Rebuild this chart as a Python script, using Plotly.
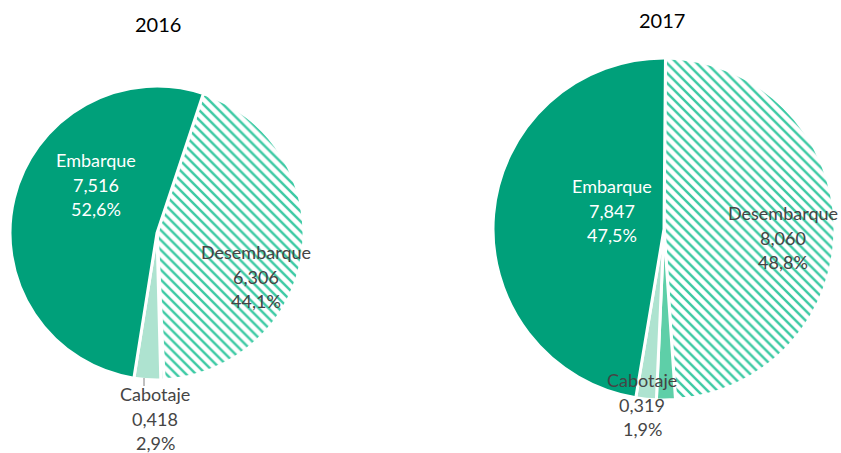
import plotly.graph_objects as go

# ---- data ----
years = ["2016", "2017"]
labels_2016 = ["Desembarque", "Otros", "Cabotaje", "Embarque"]
values_2016 = [6.306, 0.050, 0.418, 7.516]
pct_2016 = ["44,1%", "", "2,9%", "52,6%"]
txt_2016 = ["6,306", "", "0,418", "7,516"]

labels_2017 = ["Desembarque", "Otros", "Cabotaje", "Embarque"]
values_2017 = [8.060, 0.294, 0.319, 7.847]
pct_2017 = ["48,8%", "", "1,9%", "47,5%"]
txt_2017 = ["8,060", "", "0,319", "7,847"]

# ---- style ----
DARK = "#00a07a"
LIGHT = "#aee3d0"
MED = "#5ecfa8"
HATCH = "#3ccaa4"
colors = ["white", MED, LIGHT, DARK]
shapes_pat = ["\\", "", "", ""]
FONT = "Lato"
WEIGHT = 400

fig = go.Figure()

def add_pie(labels, values, domain, rotation):
    fig.add_trace(go.Pie(
        labels=labels, values=values, sort=False, direction="clockwise",
        rotation=rotation, domain=domain, textinfo="none", hoverinfo="label+value",
        showlegend=False,
        marker=dict(colors=colors, line=dict(color="white", width=3),
                    pattern=dict(shape=shapes_pat, fgcolor=[HATCH, MED, LIGHT, DARK],
                                 size=7, solidity=0.35)),
    ))

W, H = 841, 453
def px(x0, x1, y0, y1):
    return dict(x=[x0 / W, x1 / W], y=[1 - y1 / H, 1 - y0 / H])

add_pie(labels_2016, values_2016, px(10, 304, 86, 380), 18.4)
add_pie(labels_2017, values_2017, px(493, 835, 58, 400), 0.5)

ann = []
def text_at(x, y, s, color, size=18):
    ann.append(dict(x=x / W, y=1 - y / H, xref="paper", yref="paper",
                    text=s, showarrow=False,
                    font=dict(family=FONT, size=size, color=color, weight=WEIGHT),
                    xanchor="center", yanchor="middle", align="center"))

def label(x, ytop, lab, val, pct, color):
    for i, s in enumerate([lab, val, pct]):
        text_at(x, ytop + i * 24.5, s, color)

GREY = "#454545"
label(96, 160, labels_2016[3], txt_2016[3], pct_2016[3], "white")
label(256, 252, labels_2016[0], txt_2016[0], pct_2016[0], GREY)
label(155, 394, labels_2016[2], txt_2016[2], pct_2016[2], GREY)
label(612, 186, labels_2017[3], txt_2017[3], pct_2017[3], "white")
label(783, 213, labels_2017[0], txt_2017[0], pct_2017[0], GREY)
label(642, 380, labels_2017[2], txt_2017[2], pct_2017[2], GREY)

text_at(158, 24, years[0], "black", 20)
text_at(662, 20, years[1], "black", 20)

fig.update_layout(
    width=W, height=H, margin=dict(l=0, r=0, t=0, b=0),
    paper_bgcolor="white", plot_bgcolor="white",
    annotations=ann,
    shapes=[dict(type="line", xref="paper", yref="paper",
                 x0=144 / W, x1=144 / W, y0=1 - 378 / H, y1=1 - 386 / H,
                 line=dict(color="#808080", width=1))],
)
fig.write_html("out.html")
